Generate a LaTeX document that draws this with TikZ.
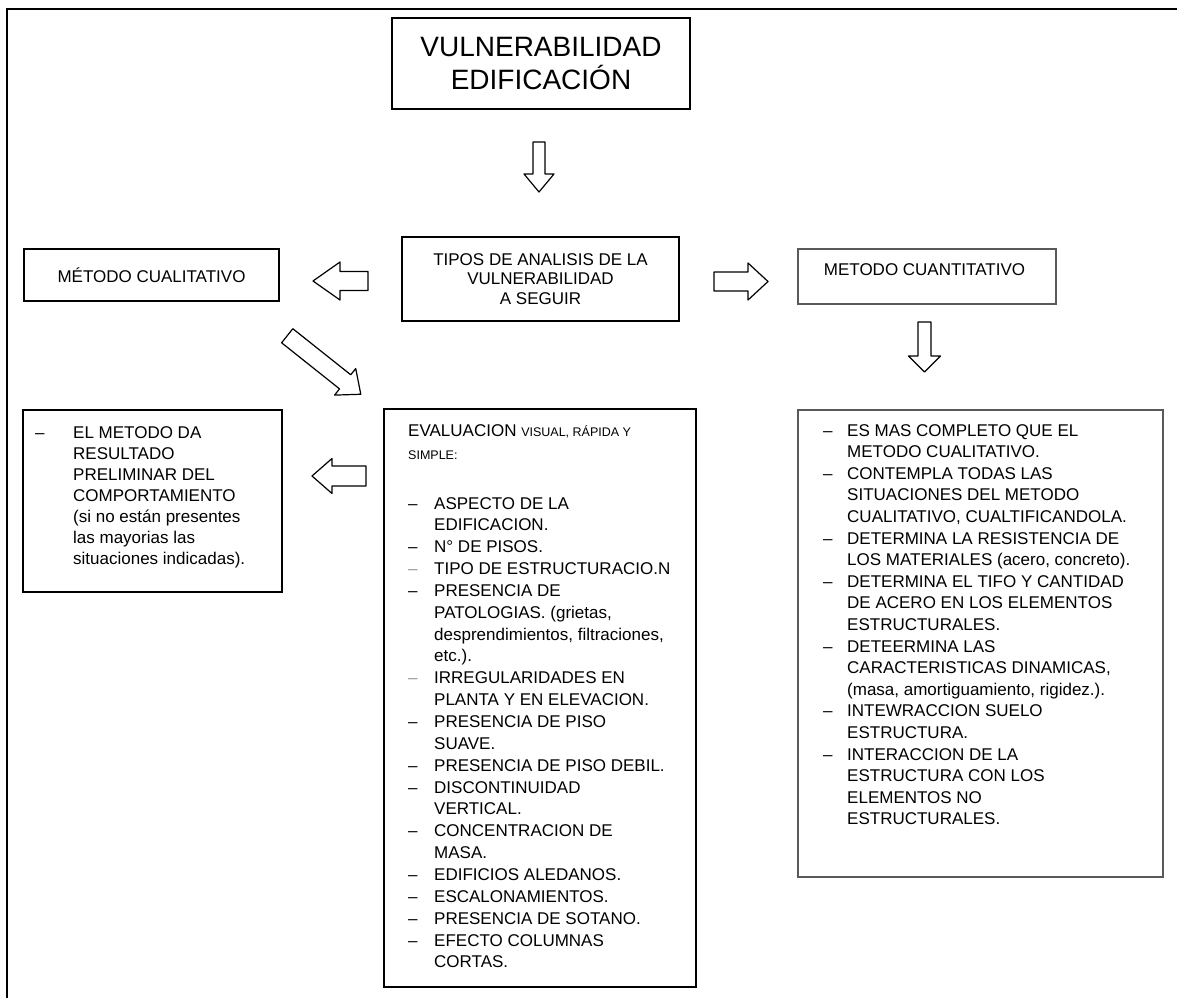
\documentclass[tikz,border=0pt]{standalone}
\usepackage{fontspec}
\setmainfont{Liberation Sans}

\begin{document}
\begin{tikzpicture}[x=1pt, y=-1pt,
    caja/.style={draw=black, line width=1.1pt, inner sep=0pt},
    cajagris/.style={draw=black!65, line width=1.1pt, inner sep=0pt},
    flecha/.style={draw=black, line width=1.2pt, line join=round, fill=white},
    lista/.style={anchor=base west, inner sep=0pt}]
\useasboundingbox (0,0) rectangle (1177,998);
\draw[line width=2pt] (7,998) -- (7,9) -- (1177,9);

% cajas superiores
\node[caja, minimum width=298pt, minimum height=91pt, align=center,
      font=\fontsize{28}{33}\selectfont] (vuln) at (541,63.5) {VULNERABILIDAD\\EDIFICACIÓN};
\node[caja, minimum width=277pt, minimum height=84pt, align=center,
      font=\fontsize{17}{19.5}\selectfont] (tipos) at (540.5,279) {TIPOS DE ANALISIS DE LA\\VULNERABILIDAD\\A SEGUIR};
\node[caja, minimum width=255pt, minimum height=52pt,
      font=\fontsize{17}{20}\selectfont] (cuali) at (151.5,275) {MÉTODO CUALITATIVO};
\node[cajagris, minimum width=258pt, minimum height=55pt] (cuanti) at (927,276.5) {};
\node[inner sep=0pt, font=\fontsize{17}{20}\selectfont] (cuantitxt) at (924.5,270) {METODO CUANTITATIVO};

% cajas inferiores
\node[caja, minimum width=259pt, minimum height=182pt] (resultado) at (152.5,501) {};
\node[caja, minimum width=312pt, minimum height=578pt] (evaluacion) at (540,698) {};
\node[cajagris, minimum width=365pt, minimum height=467pt] (detalle) at (980.5,643.5) {};

\node[lista, font=\fontsize{17}{21}\selectfont] (resultadotxt) at (35,438) {%
  \begin{tabular}[t]{@{}p{38pt}@{}l@{}}
  – & EL METODO DA\\
    & RESULTADO\\
    & PRELIMINAR DEL\\
    & COMPORTAMIENTO\\
    & (si no están presentes\\
    & las mayorias las\\
    & situaciones indicadas).
  \end{tabular}};

\node[lista, font=\fontsize{17}{23.5}\selectfont] (evaltit) at (408,436) {%
  \begin{tabular}[t]{@{}l@{}}
  EVALUACION {\fontsize{12.5}{23.5}\selectfont VISUAL, RÁPIDA Y}\\
  {\fontsize{12.5}{23.5}\selectfont SIMPLE:}
  \end{tabular}};

\node[lista, font=\fontsize{17}{21.85}\selectfont] (evaltxt) at (408,509) {%
  \begin{tabular}[t]{@{}p{26pt}@{}l@{}}
  – & ASPECTO DE LA\\
    & EDIFICACION.\\
  – & N° DE PISOS.\\
  \textcolor{black!40}{–} & TIPO DE ESTRUCTURACIO.N\\
  – & PRESENCIA DE\\
    & PATOLOGIAS. (grietas,\\
    & desprendimientos, filtraciones,\\
    & etc.).\\
  \textcolor{black!40}{–} & IRREGULARIDADES EN\\
    & PLANTA Y EN ELEVACION.\\
  – & PRESENCIA DE PISO\\
    & SUAVE.\\
  – & PRESENCIA DE PISO DEBIL.\\
  – & DISCONTINUIDAD\\
    & VERTICAL.\\
  – & CONCENTRACION DE\\
    & MASA.\\
  – & EDIFICIOS ALEDANOS.\\
  – & ESCALONAMIENTOS.\\
  – & PRESENCIA DE SOTANO.\\
  – & EFECTO COLUMNAS\\
    & CORTAS.
  \end{tabular}};

\node[lista, font=\fontsize{17}{21.6}\selectfont] (detalletxt) at (823,436) {%
  \begin{tabular}[t]{@{}p{24pt}@{}l@{}}
  – & ES MAS COMPLETO QUE EL\\
    & METODO CUALITATIVO.\\
  – & CONTEMPLA TODAS LAS\\
    & SITUACIONES DEL METODO\\
    & CUALITATIVO, CUALTIFICANDOLA.\\
  – & DETERMINA LA RESISTENCIA DE\\
    & LOS MATERIALES (acero, concreto).\\
  – & DETERMINA EL TIFO Y CANTIDAD\\
    & DE ACERO EN LOS ELEMENTOS\\
    & ESTRUCTURALES.\\
  – & DETEERMINA LAS\\
    & CARACTERISTICAS DINAMICAS,\\
    & (masa, amortiguamiento, rigidez.).\\
  – & INTEWRACCION SUELO\\
    & ESTRUCTURA.\\
  – & INTERACCION DE LA\\
    & ESTRUCTURA CON LOS\\
    & ELEMENTOS NO\\
    & ESTRUCTURALES.
  \end{tabular}};

% flechas huecas
\draw[flecha, shift={(539,167)}, rotate=-90]
    (-25,-6) -- (7,-6) -- (7,-15) -- (25,0) -- (7,15) -- (7,6) -- (-25,6) -- cycle;
\draw[flecha, shift={(340.5,281)}, rotate=180]
    (-27.5,-9.5) -- (0.5,-9.5) -- (0.5,-19) -- (27.5,0) -- (0.5,19) -- (0.5,9.5) -- (-27.5,9.5) -- cycle;
\draw[flecha, shift={(741,281.5)}]
    (-27,-9.5) -- (7,-9.5) -- (7,-18.5) -- (27,0) -- (7,18.5) -- (7,9.5) -- (-27,9.5) -- cycle;
\draw[flecha, shift={(924.5,347)}, rotate=-90]
    (-25,-6.5) -- (9,-6.5) -- (9,-16) -- (25,0) -- (9,16) -- (9,6.5) -- (-25,6.5) -- cycle;
\draw[flecha, shift={(324,365)}, rotate=-38.5]
    (-47,-9) -- (27,-9) -- (27,-17) -- (47,0) -- (27,17) -- (27,9) -- (-47,9) -- cycle;
\draw[flecha, shift={(339,476)}, rotate=180]
    (-27,-10) -- (7,-10) -- (7,-17.5) -- (27,0) -- (7,17.5) -- (7,10) -- (-27,10) -- cycle;
\end{tikzpicture}
\end{document}
